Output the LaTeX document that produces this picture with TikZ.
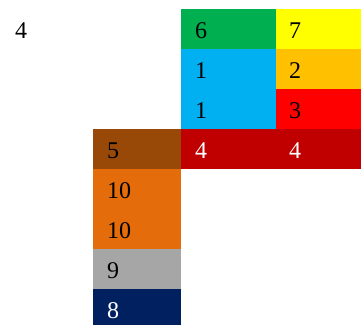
\documentclass[tikz,border=0pt]{standalone}
\usepackage{fontspec}
\setmainfont{Liberation Serif}
\usepackage{xcolor}
\definecolor{cgreen}{HTML}{00B050}
\definecolor{cyellow}{HTML}{FFFF00}
\definecolor{cblue}{HTML}{00B0F0}
\definecolor{cgold}{HTML}{FFC000}
\definecolor{cred}{HTML}{FF0000}
\definecolor{cdarkred}{HTML}{C00000}
\definecolor{cbrown}{HTML}{984807}
\definecolor{corange}{HTML}{E46C0A}
\definecolor{cgray}{HTML}{A6A6A6}
\definecolor{cnavy}{HTML}{002060}
\begin{document}
\begin{tikzpicture}[x=1pt,y=-1pt,font=\fontsize{24}{28}\selectfont,
  lbl/.style={anchor=base west,inner sep=0pt},
  wlbl/.style={lbl,text=white}]
  \useasboundingbox (0,0) rectangle (361,325);
  % cells
  \fill[cgreen] (181,9) rectangle (276,49);
  \fill[cyellow] (276,9) rectangle (361,49);
  \fill[cblue] (181,49) rectangle (276,129);
  \fill[cgold] (276,49) rectangle (361,89);
  \fill[cred] (276,89) rectangle (361,129);
  \fill[cbrown] (93,129) rectangle (181,169);
  \fill[cdarkred] (181,129) rectangle (361,169);
  \fill[corange] (93,169) rectangle (181,249);
  \fill[cgray] (93,249) rectangle (181,289);
  \fill[cnavy] (93,289) rectangle (181,325);
  % labels
  \node[lbl] (total) at (15,38) {4};
  \node[lbl] (g6) at (195,38.5) {6};
  \node[lbl] (y7) at (289,38.5) {7};
  \node[lbl] (b1a) at (195,78.5) {1};
  \node[lbl] (o2) at (289,78.5) {2};
  \node[lbl] (b1b) at (195,118.5) {1};
  \node[lbl] (r3) at (289,118.5) {3};
  \node[lbl] (br5) at (107,158.5) {5};
  \node[wlbl] (d4a) at (195,158.5) {4};
  \node[wlbl] (d4b) at (289,158.5) {4};
  \node[lbl] (or10a) at (107,198.5) {10};
  \node[lbl] (or10b) at (107,238.5) {10};
  \node[lbl] (gr9) at (107,278.5) {9};
  \node[wlbl] (nv8) at (107,318.5) {8};
\end{tikzpicture}
\end{document}
